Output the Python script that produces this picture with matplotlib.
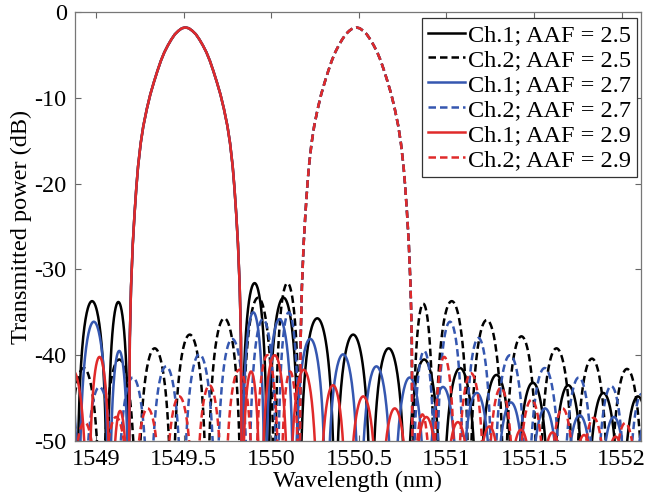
import numpy as np
import matplotlib
matplotlib.use('Agg')
import matplotlib.pyplot as plt

plt.rcParams['font.family'] = ['Liberation Serif', 'DejaVu Serif']
plt.rcParams['axes.unicode_minus'] = False

# main lobe half profile (offset from channel centre in nm, level in dB)
main_dx = [0.0, 0.02, 0.04, 0.06, 0.08, 0.10, 0.12, 0.14, 0.16, 0.18, 0.20, 0.22, 0.24,
           0.255, 0.27, 0.28, 0.29, 0.30, 0.31, 0.317, 0.322]
main_db = [-1.8, -1.9, -2.2, -2.6, -3.2, -3.9, -4.7, -5.7, -6.9, -8.2, -9.6, -11.3, -13.3,
           -15.3, -18.0, -20.5, -23.5, -27.0, -32.0, -38.0, -55.0]

# each curve: null wavelengths (nm) and lobe peak level (dB) between consecutive nulls
ch1_25_nulls = [1548.69, 1548.89, 1549.065, 1549.19, 1549.83, 1549.98, 1550.16, 1550.365, 1550.57,
                1550.77, 1550.975, 1551.18, 1551.39, 1551.595, 1551.795, 1551.995, 1552.19]
ch1_25_peaks = [-35.9, -33.7, -33.8, -1.8, -31.6, -33.3, -35.7, -37.6, -39.2, -40.5, -41.5, -42.3,
                -43.2, -43.5, -44.4, -44.8]

ch2_25_nulls = [1548.63, 1548.83, 1549.03, 1549.235, 1549.435, 1549.635, 1549.83, 1550.02, 1550.165,
                1550.805, 1550.93, 1551.13, 1551.33, 1551.525, 1551.73, 1551.93, 1552.13]
ch2_25_peaks = [-42.3, -41.5, -40.5, -39.2, -37.6, -35.7, -33.3, -31.6, -1.8, -34.0, -33.7, -35.9,
                -37.8, -39.2, -40.4, -41.6]

ch1_27_nulls = [1548.72, 1548.90, 1549.075, 1549.19, 1549.83, 1549.965, 1550.13, 1550.315, 1550.505,
                1550.695, 1550.885, 1551.075, 1551.27, 1551.465, 1551.66, 1551.86, 1552.05, 1552.24]
ch1_27_peaks = [-38.0, -36.1, -39.5, -1.8, -35.0, -35.8, -38.1, -39.9, -41.3, -42.6, -43.7, -44.4,
                -45.5, -46.2, -47.0, -47.2, -47.5]

ch2_27_nulls = [1548.73, 1548.925, 1549.115, 1549.305, 1549.495, 1549.685, 1549.87, 1550.035, 1550.165,
                1550.805, 1550.94, 1551.10, 1551.265, 1551.46, 1551.66, 1551.85, 1552.03, 1552.2]
ch2_27_peaks = [-44.4, -43.7, -42.6, -41.3, -39.9, -38.1, -35.8, -35.0, -1.8, -39.5, -36.1, -38.0,
                -40.0, -41.5, -42.6, -43.6, -44.5]

ch1_29_nulls = [1548.78, 1548.955, 1549.085, 1549.19, 1549.83, 1549.94, 1550.10, 1550.27, 1550.435,
                1550.615, 1550.795, 1550.975, 1551.155, 1551.335, 1551.515, 1551.695, 1551.875,
                1552.055, 1552.235]
ch1_29_peaks = [-41.8, -40.2, -46.5, -1.8, -41.9, -40.0, -41.7, -43.5, -44.8, -46.2, -47.2, -47.8,
                -48.3, -48.7, -49.0, -49.3, -49.5, -49.7]

ch2_29_nulls = [1548.665, 1548.845, 1549.025, 1549.205, 1549.385, 1549.565, 1549.73, 1549.905, 1550.05,
                1550.165, 1550.805, 1550.92, 1551.055, 1551.225, 1551.395, 1551.575, 1551.75, 1551.93,
                1552.11]
ch2_29_peaks = [-48.3, -47.8, -47.2, -46.2, -44.8, -43.5, -41.7, -40.0, -41.9, -1.8, -46.9, -40.2,
                -42.1, -43.8, -45.2, -46.2, -47.3, -47.9]

labels = ['Ch.1; AAF = 2.5', 'Ch.2; AAF = 2.5', 'Ch.1; AAF = 2.7',
          'Ch.2; AAF = 2.7', 'Ch.1; AAF = 2.9', 'Ch.2; AAF = 2.9']
yticks = [0, -10, -20, -30, -40, -50]
xticks = [1549, 1549.5, 1550, 1550.5, 1551, 1551.5, 1552]


def trace(nulls, peaks):
    # build the curve lobe by lobe between the read nulls
    xs, ys = [], []
    imain = int(np.argmax(peaks))
    for i, p in enumerate(peaks):
        a, b = nulls[i], nulls[i + 1]
        if i == imain:
            c = 0.5 * (a + b)
            dx = np.array(main_dx)
            db = np.array(main_db)
            xs.append(np.concatenate([c - dx[::-1], c + dx[1:]]))
            ys.append(np.concatenate([db[::-1], db[1:]]))
        else:
            t = np.linspace(0, 1, 81)
            xs.append(a + t * (b - a))
            ys.append(p + 20 * np.log10(np.clip(np.sin(np.pi * t), 1e-4, None)))
    return np.concatenate(xs), np.concatenate(ys)


curves = [(ch1_25_nulls, ch1_25_peaks), (ch2_25_nulls, ch2_25_peaks),
          (ch1_27_nulls, ch1_27_peaks), (ch2_27_nulls, ch2_27_peaks),
          (ch1_29_nulls, ch1_29_peaks), (ch2_29_nulls, ch2_29_peaks)]
colors = ['black', 'black', '#3557b0', '#3557b0', '#e02a2a', '#e02a2a']
styles = ['-', '--', '-', '--', '-', '--']

fig = plt.figure(figsize=(6.48, 4.97), dpi=100)
ax = fig.add_axes([0.1157, 0.1127, 0.8735, 0.8632])

for (n, p), c, ls, lab in zip(curves, colors, styles, labels):
    x, y = trace(n, p)
    line, = ax.plot(x, y, color=c, ls=ls, lw=1.8, label=lab)
    if ls == '--':
        line.set_dashes((3.0, 1.6))

ax.set_xlim(1548.88, 1552.11)
ax.set_ylim(-50, 0)
ax.set_xticks(xticks)
ax.set_xticklabels(['1549', '1549.5', '1550', '1550.5', '1551', '1551.5', '1552'])
ax.set_yticks(yticks)
ax.tick_params(direction='in', top=True, right=True, length=4, width=0.8,
               color='#666666', labelsize=17.5, pad=6)
for s in ax.spines.values():
    s.set_color('#777777')
    s.set_linewidth(0.9)

ax.set_xlabel('Wavelength (nm)', fontsize=17.5, labelpad=0)
ax.set_ylabel('Transmitted power (dB)', fontsize=17.5, labelpad=2)

leg = ax.legend(loc='upper right', bbox_to_anchor=(0.993, 0.986), borderaxespad=0,
                fontsize=17.5, handlelength=1.55, handletextpad=0.1, labelspacing=0.12,
                borderpad=0.25, fancybox=False, framealpha=1, edgecolor='#333333')
leg.get_frame().set_linewidth(0.9)

fig.savefig('out.png', dpi=100)
